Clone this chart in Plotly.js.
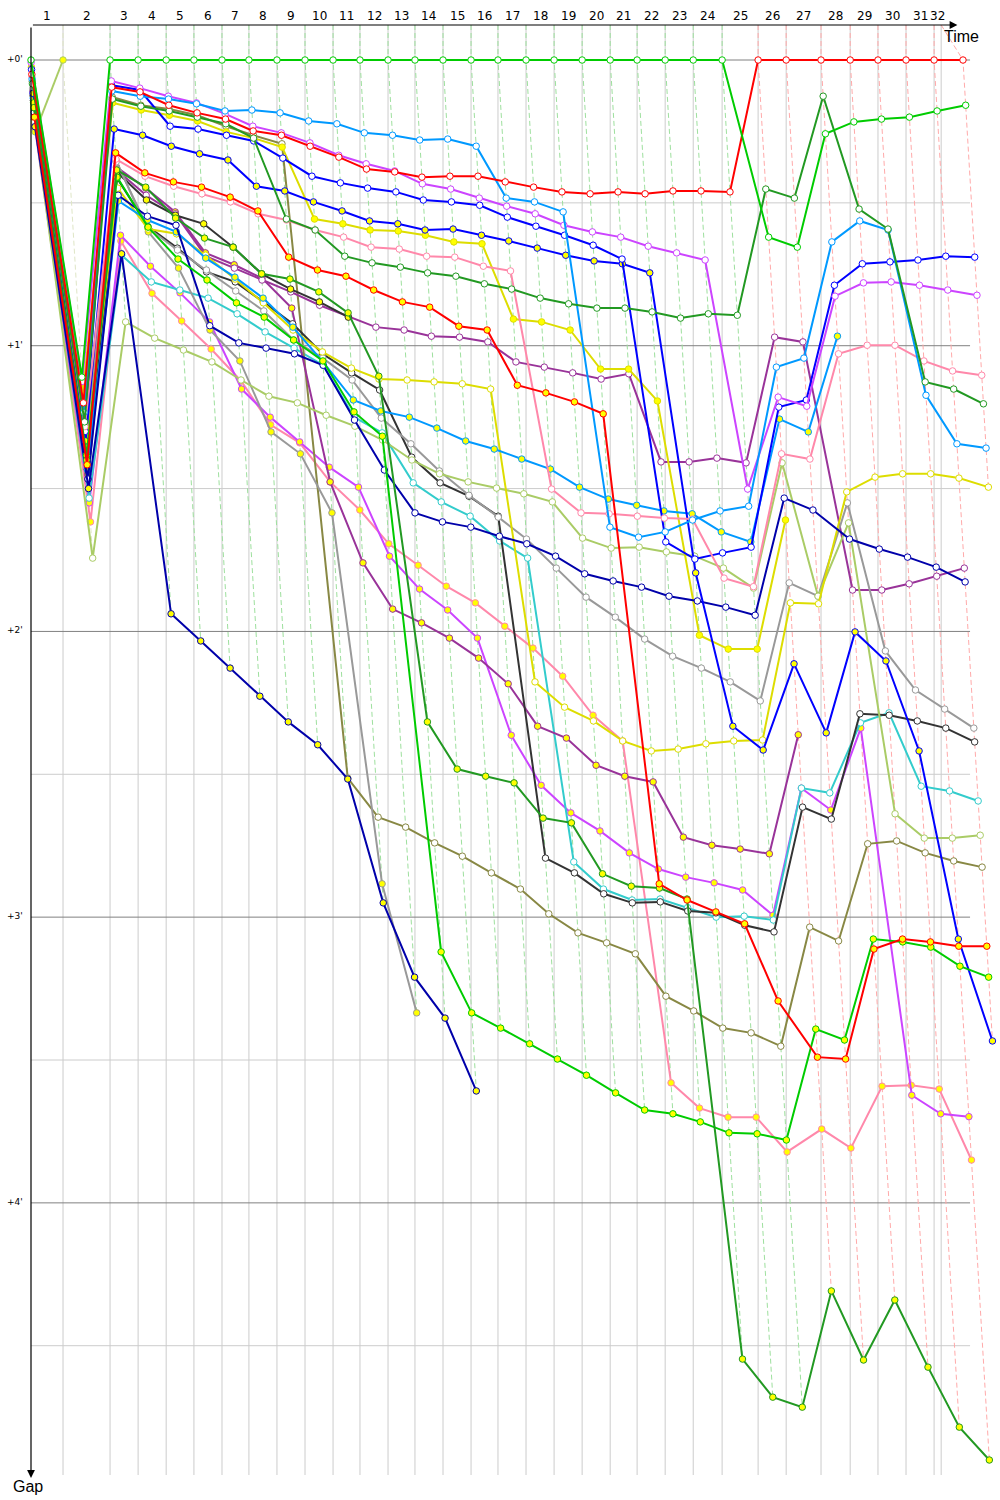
<!DOCTYPE html>
<html><head><meta charset="utf-8">
<script src="https://cdn.plot.ly/plotly-3.0.1.min.js"></script>
<style>html,body{margin:0;padding:0;background:#fff}</style>
</head><body><div id="chart" style="width:1000px;height:1500px"></div>
<script>
// Leader's elapsed time (s) at the end of each lap (index = lap, 0 = start)
const lapTimes = [0,113,279,378,477,575,674,769,868,967,1066,1161,1260,1355,1454,1553,1648,1747,1846,1945,2044,2139,2238,2337,2439,2566,2665,2788,2891,2989,3088,3187,3289];
// Time of the last lap grid line (drawn instead of the final leader time)
const lastGridTime = 3212;
const lapLabels = ["1","2","3","4","5","6","7","8","9","10","11","12","13","14","15","16","17","18","19","20","21","22","23","24","25","26","27","28","29","30","31","32"];
const gapTicks = [0,60,120,180,240];
const gapTickText = ["+0'","+1'","+2'","+3'","+4'"];

// Gap to the leader (s) at each lap, index = lap number
const gapGreenH   = [0,66.6,0,0,0,0,0,0,0,0,0,0,0,0,0,0,0,0,0,0,0,0,0,0,0,37.2,39.3,15.5,13.0,12.4,12.0,10.7,9.5];
const gapRedH     = [3,72,5.7,6.7,9.5,11.1,12.4,14.9,15.8,18.1,20.4,22.9,23.5,24.6,24.4,24.4,25.6,26.7,27.7,28.1,27.7,28.1,27.5,27.5,27.7,0,0,0,0,0,0,0,0];
const gapRedY     = [12,85,19.5,23.7,25.6,26.7,28.8,31.7,41.4,44.1,45.4,48.3,50.8,51.9,55.9,56.7,68.3,69.9,71.8,74.3,173.0,176.4,178.9,181.4,197.6,209.4,209.8,186.7,184.6,185.2,186.1,186.1];
const gapDkGreenH = [5,76,8.2,9.7,10.7,12.0,13.4,16.4,33.4,35.7,41.2,42.6,43.5,44.7,45.4,47.0,48.1,50.0,51.2,52.1,52.1,52.9,54.2,53.3,53.6,27.1,29.0,7.6,31.3,35.5,67.6,69.1,72.2];
const gapDkGreenY = [10,84,23.1,26.7,33.2,37.4,39.3,44.9,46.0,48.7,53.1,66.4,139.0,148.9,150.4,151.8,159.2,160.2,170.9,173.5,173.9,176.2,272.8,280.8,282.9,258.5,273.0,260.4,274.5,287.1,294.0];
const gapGreenY   = [9,83,24.6,35.1,41.8,46.2,51.0,54.0,58.8,63.2,73.9,79.0,187.3,200.1,203.3,206.6,209.8,213.2,216.9,220.5,221.3,223.0,225.3,225.5,226.8,203.5,205.8,184.6,185.2,186.3,190.3,192.6];
const gapDodgerH  = [4,74,6.5,7.6,8.2,9.2,10.7,10.5,11.1,12.8,13.4,15.3,15.8,16.8,16.6,18.1,29.0,29.8,31.9,98.1,100.2,99.1,96.6,94.7,93.7,64.5,62.6,38.2,33.8,35.7,70.4,80.6,81.5];
const gapMagentaH = [0.5,67.5,4.4,5.9,7.6,9.0,11.3,13.9,15.3,17.4,20.0,21.8,23.3,26.0,27.1,29.0,30.7,32.3,34.7,36.1,37.2,39.1,40.5,42.0,90.1,70.8,72.7,49.6,46.8,46.6,47.3,48.3,49.4];
const gapBlueH    = [2,78,5.3,6.3,13.9,14.5,15.8,17.0,20.6,24.4,25.8,26.9,27.7,29.4,29.8,30.5,33.0,34.9,36.8,38.9,41.8,101.2,104.8,103.5,102.3,72.9,71.4,47.3,42.8,42.4,42.0,41.2,41.4];
const gapBlueY    = [7,80,14.5,15.8,18.1,19.7,21.0,26.5,27.5,29.8,31.7,33.8,34.4,35.7,35.5,36.8,38.0,39.5,41.0,42.2,42.8,44.7,107.7,139.9,144.9,126.8,141.3,120.1,126.2,145.1,184.6,206.0];
const gapNavyY    = [14,90,40.7,116.3,122.0,127.7,133.6,139.0,143.8,151.0,177.0,192.6,201.2,216.5];
const gapNavyH    = [11,88,28.4,32.8,34.7,55.8,59.4,60.5,61.7,64.1,75.6,86.1,95.1,97.0,98.1,100.0,101.6,104.2,107.9,109.4,110.7,112.6,113.6,114.9,116.6,92.0,94.5,100.6,102.7,104.4,106.5,109.6];
const gapDodgerY  = [8,86,29.6,33.6,36.1,41.6,45.6,50.0,56.1,63.4,71.4,73.7,75.0,77.3,80.0,81.7,83.8,85.9,89.7,92.2,93.5,94.7,95.3,99.1,101.2,75.4,78.1,58.0];
const gapYellowY  = [1.5,70,9.0,10.5,11.6,12.8,15.1,16.4,18.3,33.4,34.4,35.7,35.9,36.8,38.2,38.6,54.4,55.0,56.7,64.9,64.9,71.6,120.8,123.7,123.7,96.6];
const gapYellowH  = [9.5,82,26.9,35.5,36.5,41.0,46.0,51.0,56.7,61.3,64.7,67.0,67.2,67.6,68.0,69.1,130.6,135.9,138.8,143.0,145.1,144.7,143.6,143.0,142.8,114.0,114.2,90.7,87.6,86.9,86.9,87.8,89.7];
const gapPaleH    = [13,104.6,55.0,58.4,60.9,63.4,67.2,70.6,72.0,74.6,76.9,79.8,84.0,86.9,88.6,89.9,91.1,92.8,100.4,102.5,102.3,103.3,104.2,106.7,110.9,84.6,112.6,97.2,158.3,163.4,163.4,162.8];
const gapPaleY    = [15.1,0];
const gapGrayH    = [6,81,21.4,35.3,39.9,44.1,48.5,52.7,58.8,62.6,67.2,75.2,80.6,86.3,91.4,96.0,100.6,106.7,112.8,117.0,121.6,125.2,127.7,130.6,134.6,109.8,112.6,93.0,124.1,132.3,136.3,140.3];
const gapGrayY    = [10.5,85,21.0,36.1,43.7,56.7,63.2,78.1,82.7,95.1,173.0,200.1];
const gapBlackH   = [8.5,88,24.8,35.0,39.5,44.5,46.6,50.8,55.4,61.7,65.7,69.3,83.4,88.8,91.6,95.8,167.6,170.7,175.1,177.0,176.8,178.7,179.1,181.7,183.1,156.9,159.4,137.3,137.6,138.8,140.3,143.2];
const gapBlackY   = [7.5,86,23.5,29.4,32.6,34.4,39.3,44.9,48.1,50.8,54.0];
const gapPurpleH  = [6.5,79,23.1,28.4,32.3,41.2,43.7,46.2,48.7,51.5,53.9,56.1,56.7,58.0,58.2,59.2,63.4,64.5,65.7,67.0,65.9,84.4,84.4,83.6,84.6,58.2,59.2,111.3,111.3,110.0,108.4,106.7];
const gapPurpleY  = [12.5,87,22.5,26.9,31.9,40.5,43.0,45.8,52.1,88.6,105.6,115.3,118.2,121.4,125.6,131.0,139.9,142.4,148.1,150.4,151.6,163.2,164.9,165.7,166.7,141.7];
const gapOliveH   = [4.5,73,7.8,9.5,10.3,11.6,13.9,15.8,17.6,150.8,159.0,161.1,164.4,167.2,170.7,174.1,179.3,183.3,185.4,187.7,196.6,199.7,203.3,204.3,207.1,182.1,185.0,164.6,164.0,166.5,168.2,169.5];
const gapCyanH    = [11.5,92,41.0,46.6,48.3,50.0,53.3,57.1,60.5,64.1,75.0,78.3,88.8,92.8,95.8,101.0,104.6,168.4,174.1,176.4,176.2,178.0,180.0,179.8,180.6,152.9,153.9,139.2,137.1,152.5,153.5,155.6];
const gapMagentaY = [13.5,93,36.8,43.3,48.9,55.0,69.1,75.0,80.2,85.5,89.7,104.2,111.1,115.5,121.4,141.8,152.3,158.1,161.9,166.5,169.9,171.6,172.8,174.3,179.6,152.9,157.5,140.3,217.4,221.3,221.9];
const gapPinkH    = [3.5,77,20.8,24.4,26.5,28.1,29.8,32.3,33.6,35.7,37.2,39.3,39.7,41.2,41.4,43.3,44.3,90.1,95.1,95.3,95.8,96.2,96.4,108.8,110.6,82.7,83.8,61.7,59.9,59.9,63.2,65.3,66.2];
const gapPinkY    = [14.5,97,38.0,49.0,54.8,60.7,67.4,76.6,80.4,88.6,94.5,101.6,106.1,110.5,114.0,118.9,123.5,129.4,137.6,143.0,214.8,220.1,222.0,222.0,229.3,224.5,228.5,215.5,215.3,216.1,231.0];

const W = '#ffffff', Y = '#ffff00';
const series = [
  {gaps: gapPinkY, color: '#ff88aa', fill: Y},
  {gaps: gapMagentaY, color: '#cc44ff', fill: Y},
  {gaps: gapCyanH, color: '#33cccc', fill: W},
  {gaps: gapOliveH, color: '#888844', fill: W},
  {gaps: gapPurpleY, color: '#993399', fill: Y},
  {gaps: gapPurpleH, color: '#993399', fill: W},
  {gaps: gapBlackY, color: '#333333', fill: Y},
  {gaps: gapBlackH, color: '#333333', fill: W},
  {gaps: gapGrayY, color: '#999999', fill: Y},
  {gaps: gapGrayH, color: '#999999', fill: W},
  {gaps: gapPaleY, color: '#aacc66', fill: Y},
  {gaps: gapPaleH, color: '#aacc66', fill: W},
  {gaps: gapYellowH, color: '#dddd00', fill: W},
  {gaps: gapYellowY, color: '#dddd00', fill: Y},
  {gaps: gapDodgerY, color: '#0099ff', fill: Y},
  {gaps: gapNavyH, color: '#0000aa', fill: W},
  {gaps: gapNavyY, color: '#0000aa', fill: Y},
  {gaps: gapBlueY, color: '#0000ff', fill: Y},
  {gaps: gapBlueH, color: '#0000ff', fill: W},
  {gaps: gapPinkH, color: '#ff88aa', fill: W},
  {gaps: gapMagentaH, color: '#cc44ff', fill: W},
  {gaps: gapDodgerH, color: '#0099ff', fill: W},
  {gaps: gapGreenY, color: '#00cc00', fill: Y},
  {gaps: gapDkGreenY, color: '#229922', fill: Y},
  {gaps: gapDkGreenH, color: '#229922', fill: W},
  {gaps: gapRedY, color: '#ff0000', fill: Y},
  {gaps: gapRedH, color: '#ff0000', fill: W},
  {gaps: gapGreenH, color: '#00cc00', fill: W}
];

const yTop = -7.35, yBottom = 297.15;
const xMax = 3402;
const gridAll = lapTimes.slice(0, 32).concat([lastGridTime]);

const traces = [];
// lap connectors (dashed)
for (let k = 1; k <= 32; k++) {
  let gmax = 0;
  series.forEach(s => { if (s.gaps[k] != null && s.gaps[k] > gmax) gmax = s.gaps[k]; });
  let col = k === 1 ? '#dfe6c6' : (k <= 24 ? '#9ee09e' : '#ffaaaa');
  traces.push({x: [gridAll[k], lapTimes[k], lapTimes[k] + gmax], y: [yTop, 0, gmax],
    mode: 'lines', line: {color: col, width: 1, dash: '5px,3px'}, hoverinfo: 'skip', showlegend: false});
}
series.forEach(s => {
  const xs = [], ys = [];
  s.gaps.forEach((g, k) => { if (g != null) { xs.push(lapTimes[k] + g); ys.push(g); } });
  traces.push({x: xs, y: ys, mode: 'lines+markers', line: {color: s.color, width: 2},
    marker: {size: 6.5, color: s.fill, line: {color: s.color, width: 1}},
    hoverinfo: 'skip', showlegend: false, cliponaxis: false});
});

const shapes = [];
for (let k = 1; k < gridAll.length; k++) {
  shapes.push({type: 'line', xref: 'x', yref: 'paper', x0: gridAll[k], x1: gridAll[k], y0: 0, y1: 1,
    line: {color: '#cccccc', width: 1}, layer: 'below'});
}
const hEnd = 3314;
for (let g = 30; g <= 270; g += 60) {
  shapes.push({type: 'line', xref: 'x', yref: 'y', x0: 0, x1: hEnd, y0: g, y1: g, line: {color: '#cccccc', width: 1}, layer: 'below'});
}
gapTicks.forEach(g => {
  shapes.push({type: 'line', xref: 'x', yref: 'y', x0: 0, x1: hEnd, y0: g, y1: g, line: {color: '#808080', width: 1}, layer: 'below'});
});

const annotations = [];
for (let k = 1; k <= 32; k++) {
  annotations.push({x: (gridAll[k - 1] + gridAll[k]) / 2, y: 1, xref: 'x', yref: 'paper', text: lapLabels[k - 1],
    showarrow: false, yanchor: 'bottom', yshift: 0, font: {family: 'DejaVu Sans', size: 12, color: '#000'}});
}
gapTicks.forEach((g, i) => {
  annotations.push({x: 0, y: g, xref: 'paper', yref: 'y', text: gapTickText[i], showarrow: false,
    xanchor: 'right', xshift: -6, yshift: 1, font: {family: 'DejaVu Sans', size: 9, color: '#000'}});
});
// axis arrows
annotations.push({x: 0.961, y: 1, xref: 'paper', yref: 'paper', ax: -926, ay: 0, axref: 'pixel', ayref: 'pixel',
  text: '', showarrow: true, arrowhead: 2, arrowsize: 1.3, arrowwidth: 1.2, arrowcolor: '#000'});
annotations.push({x: 0, y: -0.002, xref: 'paper', yref: 'paper', ax: 0, ay: -1452, axref: 'pixel', ayref: 'pixel',
  text: '', showarrow: true, arrowhead: 2, arrowsize: 1.3, arrowwidth: 1.2, arrowcolor: '#000'});
annotations.push({x: 0.945, y: 1, xref: 'paper', yref: 'paper', text: 'Time', showarrow: false, xanchor: 'left', yanchor: 'top', yshift: -1,
  font: {family: 'Liberation Sans', size: 16, color: '#000'}});
annotations.push({x: -0.021, y: 0, xref: 'paper', yref: 'paper', text: 'Gap', showarrow: false, xanchor: 'left', yanchor: 'top', yshift: -1,
  font: {family: 'Liberation Sans', size: 16, color: '#000'}});

const layout = {
  width: 1000, height: 1500,
  margin: {l: 31, r: 5, t: 25, b: 25, pad: 0},
  paper_bgcolor: '#ffffff', plot_bgcolor: '#ffffff',
  showlegend: false, hovermode: false,
  xaxis: {range: [0, xMax], visible: false, fixedrange: true},
  yaxis: {range: [yBottom, yTop], visible: false, fixedrange: true},
  shapes: shapes, annotations: annotations
};
Plotly.newPlot('chart', traces, layout, {staticPlot: true, displayModeBar: false});
</script>
</body></html>
